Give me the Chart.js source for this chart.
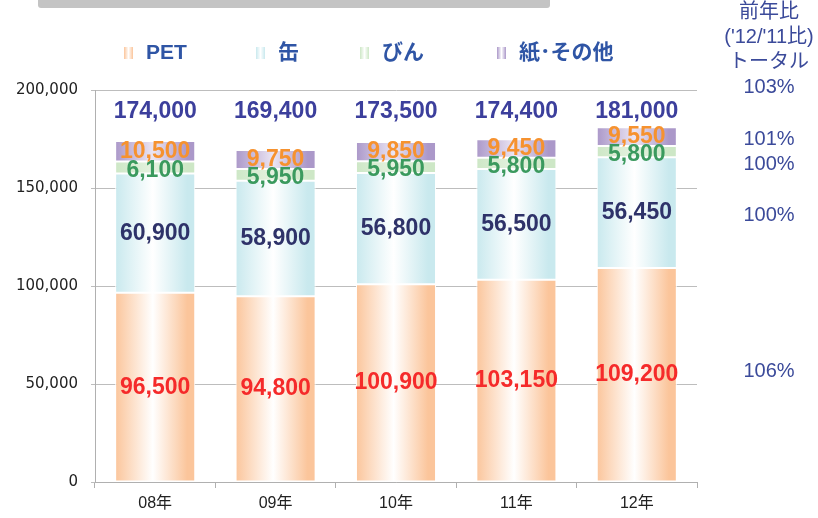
<!DOCTYPE html>
<html>
<head>
<meta charset="utf-8">
<script src="https://cdn.jsdelivr.net/npm/chart.js@4/dist/chart.umd.min.js"></script>
<style>
  body { margin: 0; background: #fff; }
  #wrap { position: relative; width: 818px; height: 518px; }
  #topbar { position: absolute; left: 38px; top: 0; width: 512px; height: 8px; background: #c4c4c4; border-radius: 0 0 3px 3px; }
</style>
</head>
<body>
<div id="wrap">
  <div id="topbar"></div>
  <canvas id="chart" width="818" height="518"></canvas>
</div>
<script>
// data
const years = ["08年", "09年", "10年", "11年", "12年"];
const seriesNames = ["PET", "缶", "びん", "紙･その他"];
const petValues = [96500, 94800, 100900, 103150, 109200];
const canValues = [60900, 58900, 56800, 56500, 56450];
const binValues = [6100, 5950, 5950, 5800, 5800];
const paperValues = [10500, 9750, 9850, 9450, 9550];
const totalLabels = [174000, 169400, 173500, 174400, 181000];
const ratioHeader = ["前年比", "('12/'11比)", "トータル"];
const ratioLabels = ["103%", "101%", "100%", "100%", "106%"];

const edgeColors = ["#fbc59b", "#c9e9ee", "#cde7c6", "#ab98c9"];
const midColors = ["#ffffff", "#ffffff", "#e4f2df", "#ebe5f3"];
const labelColors = ["#f52a2a", "#2e3269", "#3b9a5e", "#f6922f"];
const barPct = 0.665;
const numFont = "bold 23px 'Liberation Sans', Arial, sans-serif";

function barGradient(ctx, idx) {
    const chart = ctx.chart;
    const xs = chart.scales.x;
    if (ctx.type !== "data" || !chart.chartArea || !xs) return edgeColors[idx];
    const cx = xs.getPixelForValue(ctx.dataIndex);
    const w = (xs.width / years.length) * barPct;
    const g = chart.ctx.createLinearGradient(cx - w / 2, 0, cx + w / 2, 0);
    g.addColorStop(0, edgeColors[idx]);
    g.addColorStop(0.47, midColors[idx]);
    g.addColorStop(0.9, edgeColors[idx]);
    g.addColorStop(1, edgeColors[idx]);
    return g;
}

function fmt(v) {
    return v.toLocaleString("en-US");
}

// value labels inside segments, totals above bars
const labelPlugin = {
    id: "labels",
    afterDatasetsDraw(chart) {
        const c = chart.ctx;
        c.save();
        c.font = numFont;
        c.textAlign = "center";
        c.textBaseline = "middle";
        const yOff = [0, 0, 3, 0];
        chart.data.datasets.forEach((ds, i) => {
            const meta = chart.getDatasetMeta(i);
            c.fillStyle = labelColors[i];
            meta.data.forEach((bar, j) => {
                const p = bar.getProps(["x", "y", "base"], true);
                c.fillText(fmt(ds.data[j]), p.x, (p.y + p.base) / 2 + yOff[i]);
            });
        });
        c.fillStyle = "#3c3f9c";
        const meta0 = chart.getDatasetMeta(0);
        meta0.data.forEach((bar, j) => {
            c.fillText(fmt(totalLabels[j]), bar.x, 112);
        });
        c.restore();
    }
};

// legend and right side ratio texts
const sidePlugin = {
    id: "side",
    afterDraw(chart) {
        const c = chart.ctx;
        c.save();
        // legend
        const boxX = [124, 256, 360, 497];
        c.font = "bold 21px 'Liberation Sans', Arial, 'Noto Sans CJK JP', sans-serif";
        c.textBaseline = "middle";
        c.textAlign = "left";
        seriesNames.forEach((name, i) => {
            const g = c.createLinearGradient(boxX[i], 0, boxX[i] + 9, 0);
            g.addColorStop(0, edgeColors[i]);
            g.addColorStop(0.5, "#ffffff");
            g.addColorStop(1, edgeColors[i]);
            c.fillStyle = g;
            c.fillRect(boxX[i], 47, 9, 12);
            c.fillStyle = "#2f55a5";
            c.fillText(name, boxX[i] + 22, 53);
        });
        // ratios
        c.fillStyle = "#3b4a9a";
        c.textAlign = "center";
        c.font = "20px 'Liberation Sans', Arial, 'Noto Sans CJK JP', sans-serif";
        const hy = [12, 37, 62];
        ratioHeader.forEach((t, i) => c.fillText(t, 769, hy[i]));
        const ry = [87, 139, 164, 215, 371];
        ratioLabels.forEach((t, i) => c.fillText(t, 769, ry[i]));
        c.restore();
    }
};

const datasets = [petValues, canValues, binValues, paperValues].map((vals, i) => ({
    label: seriesNames[i],
    data: vals,
    backgroundColor: ctx => barGradient(ctx, i),
    borderColor: "#ffffff",
    borderWidth: 1,
    borderSkipped: false
}));

new Chart(document.getElementById("chart"), {
    type: "bar",
    data: { labels: years, datasets: datasets },
    options: {
        responsive: false,
        animation: false,
        events: [],
        layout: { padding: { top: 90, right: 121, left: 0, bottom: 0 } },
        datasets: { bar: { barPercentage: barPct, categoryPercentage: 1 } },
        scales: {
            x: {
                stacked: true,
                afterFit: s => { s.height = 36; },
                border: { color: "#b0b0b0", width: 1 },
                grid: { drawOnChartArea: false, drawTicks: true, tickLength: 6, color: "#b0b0b0", offset: true },
                ticks: { color: "#222", padding: 6, font: { family: "'Liberation Sans', Arial, 'Noto Sans CJK JP', sans-serif", size: 16 } }
            },
            y: {
                stacked: true,
                min: 0,
                max: 200000,
                afterFit: s => { s.width = 95; },
                border: { color: "#b0b0b0", width: 1 },
                grid: { color: "#bdbdbd", lineWidth: 1, tickLength: 4 },
                ticks: {
                    stepSize: 50000,
                    color: "#222",
                    padding: 13,
                    font: { family: "'DejaVu Sans', sans-serif", size: 15 },
                    callback: v => fmt(v)
                }
            }
        },
        plugins: {
            legend: { display: false },
            tooltip: { enabled: false }
        }
    },
    plugins: [labelPlugin, sidePlugin]
});
</script>
</body>
</html>
